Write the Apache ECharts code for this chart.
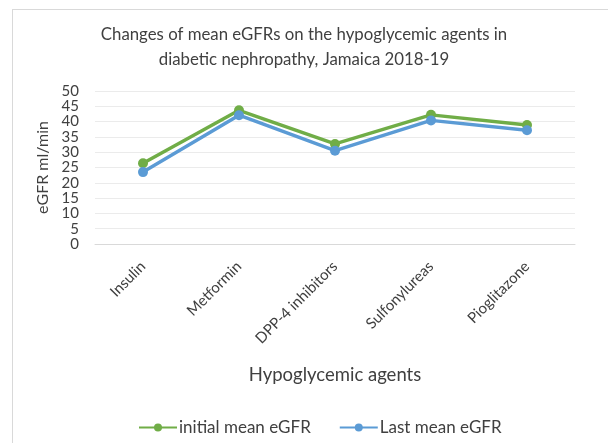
<!DOCTYPE html>
<html><head><meta charset="utf-8">
<script src="https://cdn.jsdelivr.net/npm/echarts@6/dist/echarts.min.js"></script>
<style>html,body{margin:0;padding:0;background:#fff;overflow:hidden}
#wrap{position:relative;width:608px;height:443px;overflow:hidden}
#c{width:608px;height:443px}
#frame{position:absolute;left:12px;top:9px;width:700px;height:600px;border-left:1px solid #d9d9d9;border-top:1px solid #d9d9d9;pointer-events:none}</style>
</head><body><div id="wrap"><div id="c"></div><div id="frame"></div></div>
<script>
const categories = ['Insulin','Metformin','DPP-4 inhibitors','Sulfonylureas','Pioglitazone'];
const initialMean = [26.4, 43.7, 32.7, 42.2, 38.9];
const lastMean = [23.5, 42.1, 30.5, 40.4, 37.2];
const yTicks = {min:0, max:50, interval:5};
const F = 'Lato, "Open Sans", sans-serif';
const chart = echarts.init(document.getElementById('c'));
chart.setOption({
  animation:false,
  title:{text:'Changes of mean eGFRs on the hypoglycemic agents in\ndiabetic nephropathy, Jamaica 2018-19',left:'center',top:17,
    textStyle:{fontFamily:F,fontSize:16.8,fontWeight:'normal',color:'#404040',lineHeight:25}},
  grid:{left:95,right:33,top:91,bottom:199},
  legend:{top:414,left:133,itemGap:28,itemWidth:38,itemHeight:10,
    textStyle:{fontFamily:F,fontSize:17,color:'#404040',padding:[0,0,0,-3]},
    data:['initial mean eGFR','Last mean eGFR']},
  xAxis:{type:'category',data:categories,boundaryGap:true,
    name:'Hypoglycemic agents',nameLocation:'middle',nameGap:122,
    nameTextStyle:{fontFamily:F,fontSize:18.5,color:'#404040'},
    axisLine:{lineStyle:{color:'#d9d9d9'}},axisTick:{show:false},
    axisLabel:{rotate:45,fontFamily:F,fontSize:15,color:'#404040',margin:20,interval:0}},
  yAxis:{type:'value',min:yTicks.min,max:yTicks.max,interval:yTicks.interval,
    name:'eGFR ml/min',nameLocation:'middle',nameGap:44,nameRotate:90,
    nameTextStyle:{fontFamily:F,fontSize:16,color:'#404040'},
    axisLine:{show:false},axisTick:{show:false},
    axisLabel:{fontFamily:F,fontSize:15,lineHeight:14,color:'#404040',margin:16,
      showMinLabel:true,showMaxLabel:true,hideOverlap:false},
    splitLine:{lineStyle:{color:'#ebebeb'}}},
  series:[
    {name:'initial mean eGFR',type:'line',data:initialMean,symbol:'circle',symbolSize:10,
      lineStyle:{width:3.5,color:'#70AD47'},itemStyle:{color:'#70AD47'}},
    {name:'Last mean eGFR',type:'line',data:lastMean,symbol:'circle',symbolSize:10,
      lineStyle:{width:3.5,color:'#5B9BD5'},itemStyle:{color:'#5B9BD5'}}
  ]
});
</script></body></html>
